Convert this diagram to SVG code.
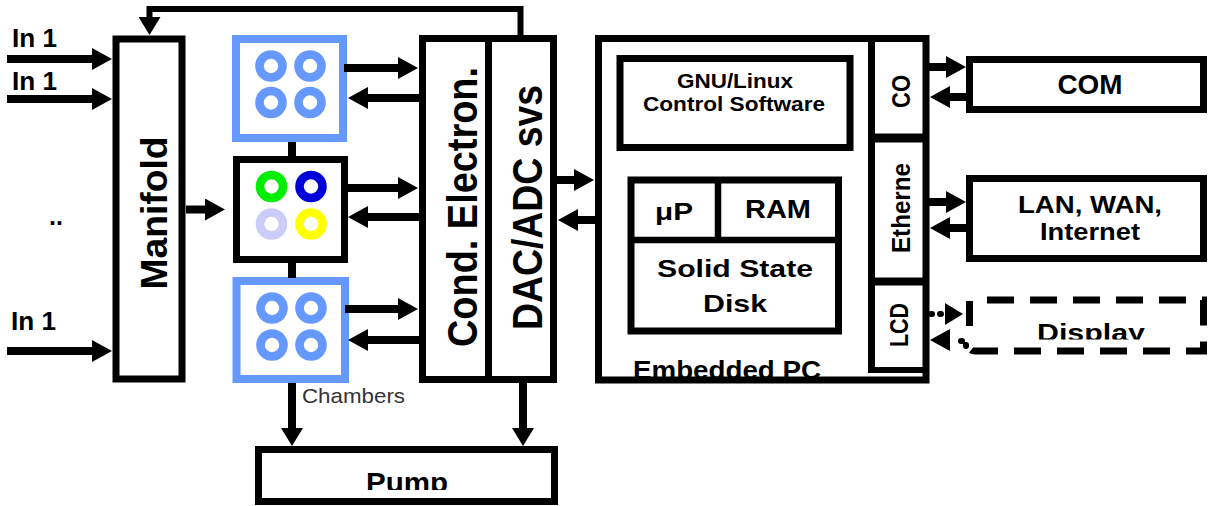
<svg xmlns="http://www.w3.org/2000/svg" width="1209" height="506" viewBox="0 0 1209 506">
<style>
text{font-family:"Liberation Sans",Arial,sans-serif;fill:#000;font-weight:bold}
.box{fill:#fff;stroke:#000;stroke-width:7}
.ch{fill:#fff;stroke:#6699FF;stroke-width:8}
.ring{fill:none;stroke-width:8.6}
.bl{stroke:#6699FF}
.ln{fill:none;stroke:#000;stroke-width:8}
.ar{marker-end:url(#ah)}
.dot{fill:none;stroke:#000;stroke-width:6;stroke-dasharray:1 8;stroke-linecap:round}
.mid{text-anchor:middle}
</style>
<defs>
<marker id="ah" markerUnits="userSpaceOnUse" viewBox="0 -11 20 22" markerWidth="20" markerHeight="22" refX="0" refY="0" orient="auto">
<path d="M0,-11 L20,0 L0,11 z" fill="#000"/>
</marker>
<marker id="ahs" markerUnits="userSpaceOnUse" viewBox="0 -11 18 22" markerWidth="18" markerHeight="22" refX="0" refY="0" orient="auto">
<path d="M0,-11 L18,0 L0,11 z" fill="#000"/>
</marker>
<clipPath id="cpPump"><rect x="258" y="450" width="298" height="40"/></clipPath>
<clipPath id="cpDisp"><rect x="970" y="300" width="235" height="39.5"/></clipPath>
</defs>

<g id="labels-in">
<text x="12" y="47" font-size="25" textLength="45" lengthAdjust="spacingAndGlyphs">In 1</text>
<text x="12" y="90" font-size="25" textLength="45" lengthAdjust="spacingAndGlyphs">In 1</text>
<text x="11" y="330" font-size="25" textLength="45" lengthAdjust="spacingAndGlyphs">In 1</text>
<text x="49" y="225" font-size="25">..</text>
</g>

<g id="manifold">
<rect class="box" x="116" y="39" width="66" height="340" stroke-width="8"/>
<text class="mid" transform="translate(167,213) rotate(-90)" font-size="37" textLength="153" lengthAdjust="spacingAndGlyphs">Manifold</text>
</g>

<g id="chamber1">
<rect class="ch" x="236" y="39" width="107" height="99"/>
<circle class="ring bl" cx="271" cy="66" r="11.5"/>
<circle class="ring bl" cx="310" cy="66" r="11.5"/>
<circle class="ring bl" cx="271" cy="102.5" r="11.5"/>
<circle class="ring bl" cx="310" cy="102.5" r="11.5"/>
</g>

<g id="chamber2">
<rect class="box" x="236.5" y="159.5" width="108" height="100"/>
<circle class="ring" stroke="#00EE00" cx="271.5" cy="186.5" r="11.5"/>
<circle class="ring" stroke="#0000D8" cx="311" cy="186.5" r="11.5"/>
<circle class="ring" stroke="#CCCCFA" cx="271.5" cy="224" r="11.5"/>
<circle class="ring" stroke="#FFFF00" cx="311" cy="224" r="11.5"/>
</g>

<g id="chamber3">
<rect class="ch" x="236.5" y="281" width="108.5" height="98"/>
<circle class="ring bl" cx="272" cy="308" r="11.5"/>
<circle class="ring bl" cx="311" cy="308" r="11.5"/>
<circle class="ring bl" cx="272" cy="345" r="11.5"/>
<circle class="ring bl" cx="311" cy="345" r="11.5"/>
<text x="302" y="403" font-size="21" style="font-weight:normal;fill:#333" textLength="103" lengthAdjust="spacingAndGlyphs">Chambers</text>
</g>

<g id="cond-dac">
<rect class="box" x="422.5" y="38.5" width="131" height="341"/>
<line x1="488.5" y1="38" x2="488.5" y2="380" stroke="#000" stroke-width="7"/>
<text class="mid" transform="translate(477,207) rotate(-90)" font-size="42" textLength="280" lengthAdjust="spacingAndGlyphs">Cond. Electron.</text>
<text class="mid" transform="translate(542,207.5) rotate(-90)" font-size="43" textLength="245" lengthAdjust="spacingAndGlyphs">DAC/ADC svs</text>
</g>

<g id="pump">
<rect class="box" x="258.5" y="449.5" width="296" height="52"/>
<text class="mid" x="407" y="492" font-size="28" textLength="82" lengthAdjust="spacingAndGlyphs" clip-path="url(#cpPump)">Pump</text>
</g>

<g id="embedded-pc">
<text class="mid" x="727" y="379" font-size="25" textLength="188" lengthAdjust="spacingAndGlyphs">Embedded PC</text>
<rect fill="none" stroke="#000" stroke-width="7" x="598.5" y="38.5" width="327.5" height="341.5"/>
<line x1="871.5" y1="38" x2="871.5" y2="373" stroke="#000" stroke-width="7"/>
<line x1="868" y1="138" x2="926" y2="138" stroke="#000" stroke-width="9"/>
<line x1="868" y1="281.5" x2="926" y2="281.5" stroke="#000" stroke-width="8"/>
<line x1="868" y1="370" x2="926" y2="370" stroke="#000" stroke-width="6"/>
<text class="mid" transform="translate(910,91.5) rotate(-90)" font-size="26" textLength="33" lengthAdjust="spacingAndGlyphs">CO</text>
<text class="mid" transform="translate(910,208) rotate(-90)" font-size="25" textLength="90" lengthAdjust="spacingAndGlyphs">Etherne</text>
<text class="mid" transform="translate(908,325) rotate(-90)" font-size="25" textLength="44" lengthAdjust="spacingAndGlyphs">LCD</text>
</g>

<g id="gnu-linux">
<rect class="box" x="620" y="58.5" width="230" height="89" stroke-width="8"/>
<text class="mid" x="735" y="88" font-size="20" textLength="116" lengthAdjust="spacingAndGlyphs">GNU/Linux</text>
<text class="mid" x="734" y="111" font-size="20" textLength="182" lengthAdjust="spacingAndGlyphs">Control Software</text>
</g>

<g id="hardware">
<rect class="box" x="631" y="180" width="207.5" height="151" stroke-width="7.5"/>
<line x1="631" y1="240" x2="838" y2="240" stroke="#000" stroke-width="6.5"/>
<line x1="718" y1="180" x2="718" y2="240" stroke="#000" stroke-width="6.5"/>
<text class="mid" x="674" y="220" font-size="24" textLength="38" lengthAdjust="spacingAndGlyphs">μP</text>
<text class="mid" x="778" y="218" font-size="25" textLength="66" lengthAdjust="spacingAndGlyphs">RAM</text>
<text class="mid" x="735" y="277" font-size="24" textLength="156" lengthAdjust="spacingAndGlyphs">Solid State</text>
<text class="mid" x="735" y="312" font-size="24" textLength="64" lengthAdjust="spacingAndGlyphs">Disk</text>
</g>

<g id="com">
<rect class="box" x="969.5" y="59.5" width="234" height="50"/>
<text class="mid" x="1090" y="94" font-size="28" textLength="65" lengthAdjust="spacingAndGlyphs">COM</text>
</g>

<g id="lan">
<rect class="box" x="969.5" y="178.5" width="234" height="80"/>
<text class="mid" x="1090" y="213" font-size="23" textLength="144" lengthAdjust="spacingAndGlyphs">LAN, WAN,</text>
<text class="mid" x="1090" y="240" font-size="23" textLength="100" lengthAdjust="spacingAndGlyphs">Internet</text>
</g>

<g id="display">
<path d="M987,300 H1203.5 V351 H975 Q969.5,351 969.5,346" fill="none" stroke="#000" stroke-width="7" stroke-dasharray="27 16"/>
<line x1="969.5" y1="301" x2="969.5" y2="326" stroke="#000" stroke-width="7"/>
<text class="mid" x="1091" y="341" font-size="23" textLength="108" lengthAdjust="spacingAndGlyphs" clip-path="url(#cpDisp)">Display</text>
</g>

<g id="connectors">
<path class="ln ar" d="M7,59 H92"/>
<path class="ln ar" d="M7,99 H92"/>
<path class="ln ar" d="M7,351 H92"/>
<path class="ln" style="stroke-width:6" marker-end="url(#ahs)" d="M520.5,36 V9 H149.5 V17"/>
<path class="ln ar" d="M186,209.5 H205"/>
<path class="ln ar" d="M344,68 H398"/>
<path class="ln ar" d="M420,98 H368"/>
<path class="ln ar" d="M344,188 H398"/>
<path class="ln ar" d="M420,217 H368"/>
<path class="ln ar" d="M345,309 H398"/>
<path class="ln ar" d="M420,340 H368"/>
<line class="ln" x1="292" y1="142" x2="292" y2="157"/>
<line class="ln" x1="292" y1="262" x2="292" y2="278"/>
<path class="ln" marker-end="url(#ahs)" d="M292,383 V428"/>
<path class="ln" marker-end="url(#ahs)" d="M523,383 V428"/>
<path class="ln ar" d="M557,180 H574"/>
<path class="ln ar" d="M596,220 H578"/>
<path class="ln ar" d="M929,67 H946"/>
<path class="ln ar" d="M967,97 H950"/>
<path class="ln ar" d="M929,202 H946"/>
<path class="ln ar" d="M967,228 H950"/>
<path class="dot" d="M931,314 H944"/>
<polygon points="945,303 963,314 945,325" fill="#000"/>
<path class="dot" d="M966,346 V341 H958"/>
<polygon points="950,329 930,340 950,351" fill="#000"/>
</g>
</svg>
